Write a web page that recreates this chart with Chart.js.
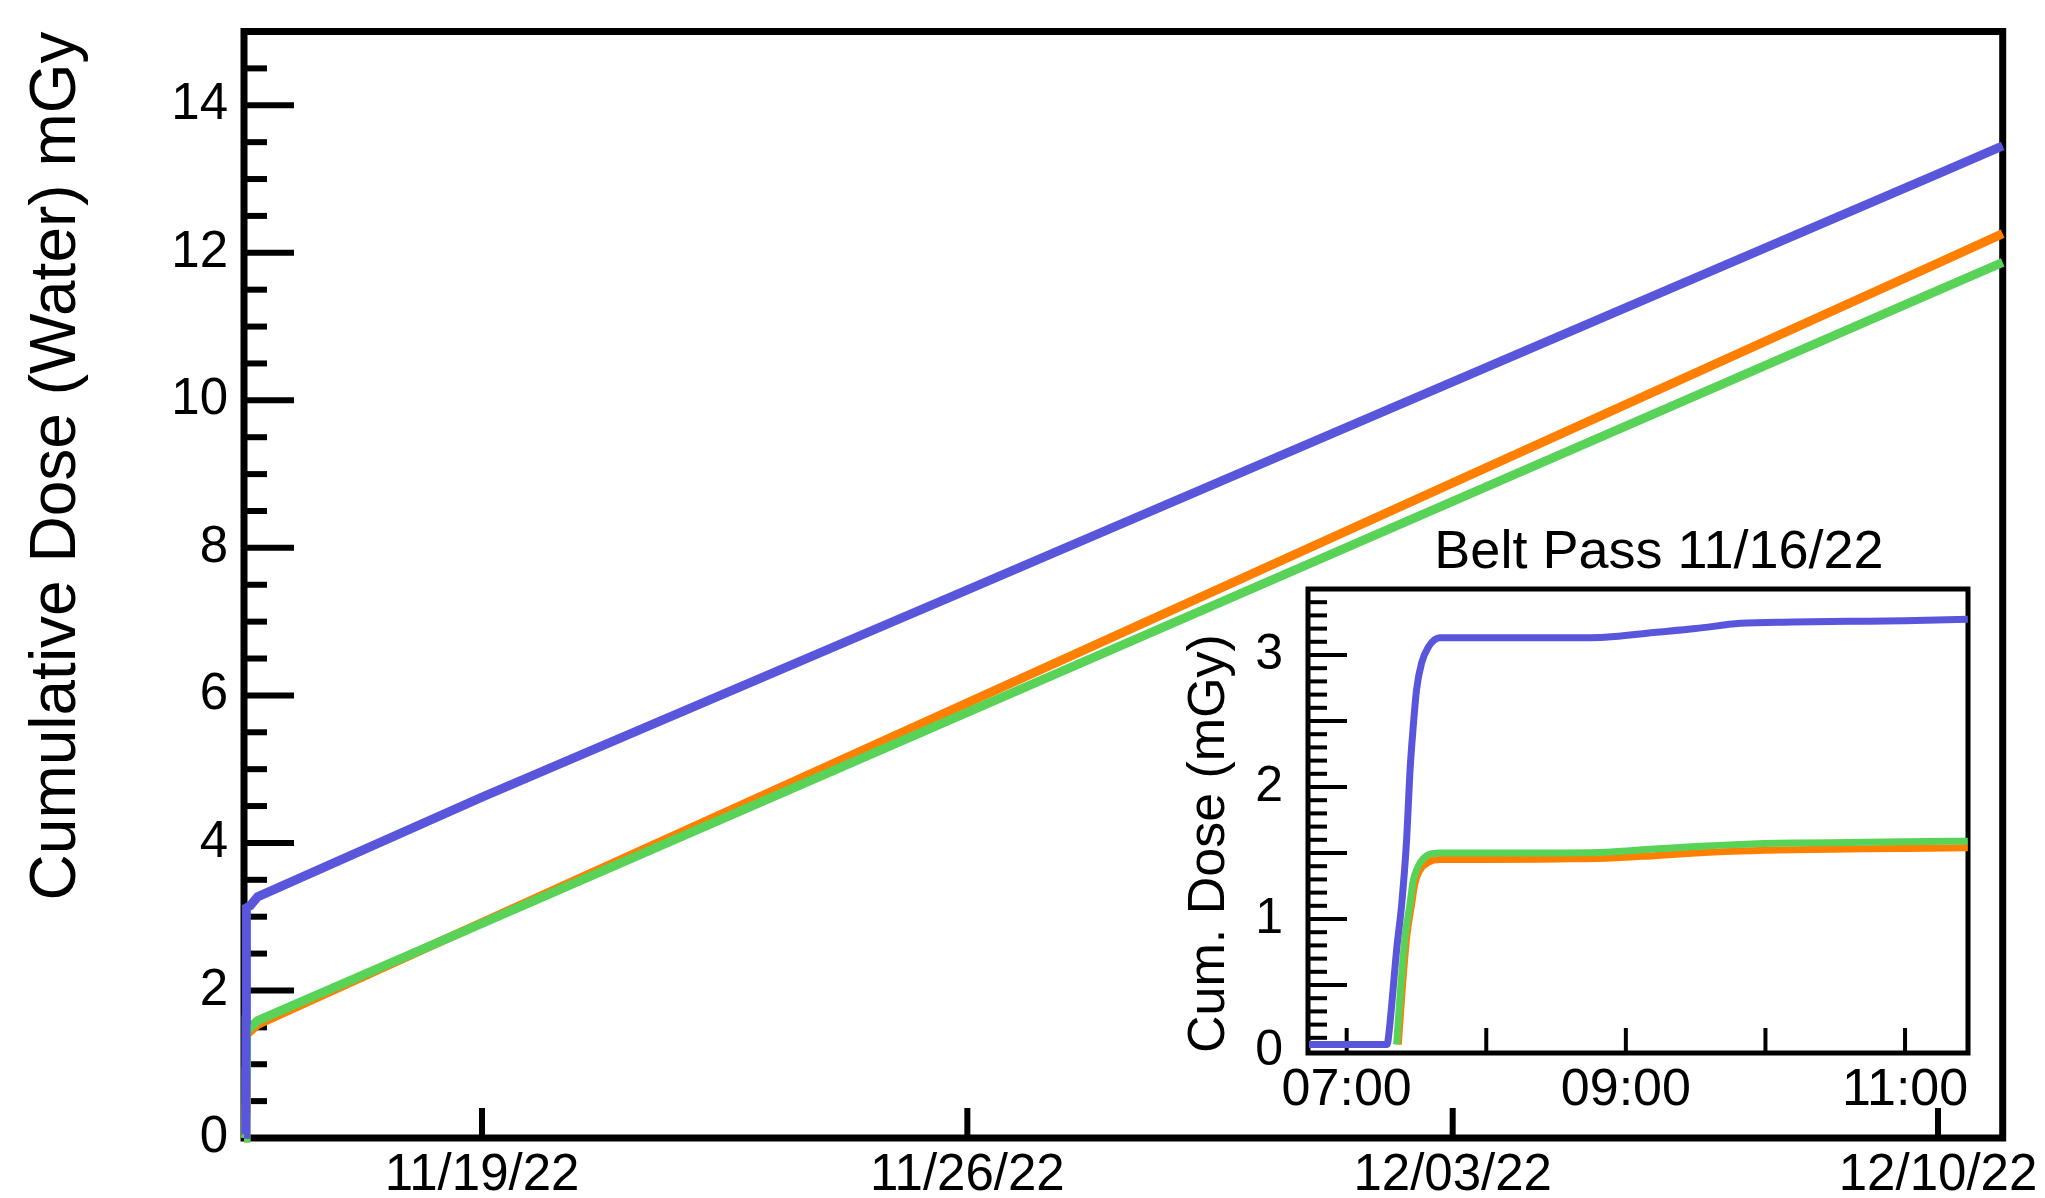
<!DOCTYPE html>
<html><head><meta charset="utf-8">
<script src="https://cdn.jsdelivr.net/npm/chart.js@4.4.1/dist/chart.umd.min.js"></script>
<style>
html,body{margin:0;padding:0;background:#fff;overflow:hidden;}
#wrap{position:relative;width:2045px;height:1198px;}
#main{position:absolute;left:0;top:0;width:2045px;height:1198px;}
#inset{position:absolute;left:1150px;top:500px;width:870px;height:640px;}
</style></head><body>
<div id="wrap"><canvas id="main" width="2045" height="1198"></canvas><canvas id="inset" width="870" height="640"></canvas></div>
<script>
// ---------- main chart: x = days since start of measurement (11/16/22 06:43) ----------
const mainTickDays   = [3.433, 10.433, 17.433, 24.433];
const mainTickLabels = ['11/19/22', '11/26/22', '12/03/22', '12/10/22'];
const mainYTicks     = [0, 2, 4, 6, 8, 10, 12, 14];

const blueDays   = [0, 0.024, 0.027, 0.029, 0.031, 0.034, 0.038, 0.09, 0.197, 3.433, 10.433, 17.433, 24.433, 25.366];
const blueDose   = [0.05, 0.05, 0.8, 1.6, 2.4, 2.9, 3.12, 3.15, 3.27, 4.62, 7.43, 10.25, 13.07, 13.45];
const orangeDays = [0, 0.026, 0.029, 0.032, 0.035, 0.04, 0.09, 0.197, 3.433, 10.433, 17.433, 24.433, 25.366];
const orangeDose = [0, 0, 0.4, 0.9, 1.2, 1.4, 1.45, 1.54, 2.92, 5.90, 8.88, 11.86, 12.26];
const greenDays  = [0, 0.026, 0.028, 0.031, 0.034, 0.04, 0.09, 0.197, 3.433, 10.433, 17.433, 24.433, 25.366];
const greenDose  = [0, 0, 0.4, 0.9, 1.25, 1.45, 1.50, 1.59, 2.91, 5.77, 8.63, 11.49, 11.87];

// ---------- inset: belt pass 11/16/22, x = hour of day ----------
const insetTickHours  = [7, 8, 9, 10, 11];
const insetTickLabels = ['07:00', '', '09:00', '', '11:00'];
const insetYTicks     = [0, 1, 2, 3];

const insetBlueHours   = [6.73, 7.0, 7.29, 7.30, 7.36, 7.394, 7.43, 7.453, 7.477, 7.501, 7.537, 7.585, 7.668, 8.0, 8.5, 8.85, 9.2, 9.5, 9.82, 10.2, 10.6, 11.0, 11.45];
const insetBlueDose    = [0.05, 0.05, 0.05, 0.11, 0.79, 1.11, 1.61, 2.11, 2.46, 2.74, 2.94, 3.06, 3.13, 3.13, 3.13, 3.135, 3.17, 3.20, 3.24, 3.25, 3.255, 3.26, 3.27];
const insetGreenHours  = [7.358, 7.382, 7.418, 7.453, 7.477, 7.513, 7.573, 7.668, 8.0, 8.5, 8.85, 9.2, 9.5, 9.82, 10.2, 10.6, 11.0, 11.45];
const insetGreenDose   = [0.05, 0.41, 0.86, 1.11, 1.29, 1.40, 1.48, 1.50, 1.50, 1.50, 1.505, 1.53, 1.55, 1.565, 1.575, 1.58, 1.585, 1.59];
const insetOrangeHours = [7.37, 7.394, 7.43, 7.465, 7.489, 7.525, 7.585, 7.668, 8.0, 8.5, 8.85, 9.2, 9.5, 9.82, 10.2, 10.6, 11.0, 11.45];
const insetOrangeDose  = [0.05, 0.41, 0.86, 1.11, 1.27, 1.37, 1.43, 1.45, 1.45, 1.455, 1.46, 1.48, 1.50, 1.515, 1.525, 1.53, 1.535, 1.54];

const BLUE = '#5956db', ORANGE = '#ff7f00', GREEN = '#58d358';
const FONT = "'Liberation Sans', Arial, Helvetica, sans-serif";

const pts = (xs, ys) => xs.map((x, i) => ({x: x, y: ys[i]}));
const noPad = s => { s.paddingTop = 0; s.paddingBottom = 0; s.paddingLeft = 0; s.paddingRight = 0; };

const framePlugin = {
  id: 'frame',
  beforeDatasetsDraw(chart, args, o) {
    const {ctx, chartArea: a} = chart;
    const x = chart.scales.x, y = chart.scales.y;
    ctx.save();
    ctx.strokeStyle = '#000';
    ctx.lineCap = 'butt';
    ctx.lineWidth = o.tickWidth;
    o.yTicks.forEach(t => {
      const py = y.getPixelForValue(t.v);
      ctx.beginPath(); ctx.moveTo(a.left, py); ctx.lineTo(a.left + t.len, py); ctx.stroke();
    });
    o.xTicks.forEach(t => {
      const px = x.getPixelForValue(t.v);
      ctx.beginPath(); ctx.moveTo(px, a.bottom); ctx.lineTo(px, a.bottom - t.len); ctx.stroke();
    });
    ctx.lineWidth = o.frameWidth;
    ctx.strokeRect(a.left, a.top, a.right - a.left, a.bottom - a.top);
    ctx.restore();
  }
};

// tick mark lists (axis decoration)
const mainYTickMarks = [];
for (let k = 1; k <= 29; k++) { const v = k * 0.5; mainYTickMarks.push({v: v, len: (k % 4 === 0) ? 50 : 23}); }
const mainXTickMarks = mainTickDays.map(v => ({v: v, len: 30}));
const insetYTickMarks = [];
for (let k = 1; k <= 34; k++) { insetYTickMarks.push({v: k / 10, len: (k % 5 === 0) ? 39 : 19}); }
const insetXTickMarks = insetTickHours.map(v => ({v: v, len: 25}));

new Chart(document.getElementById('main'), {
  type: 'line',
  data: { datasets: [
    {data: pts(blueDays, blueDose), borderColor: BLUE, borderWidth: 9, pointRadius: 0, tension: 0, clip: false},
    {data: pts(greenDays, greenDose), borderColor: GREEN, borderWidth: 9, pointRadius: 0, tension: 0, clip: false},
    {data: pts(orangeDays, orangeDose), borderColor: ORANGE, borderWidth: 9, pointRadius: 0, tension: 0, clip: false}
  ]},
  options: {
    responsive: false, animation: false, devicePixelRatio: 1,
    layout: {padding: {left: 0, top: 31.5, right: 42.3, bottom: 0}},
    plugins: {legend: {display: false}, tooltip: {enabled: false},
      frame: {tickWidth: 6, frameWidth: 7, yTicks: mainYTickMarks, xTicks: mainXTickMarks}},
    scales: {
      x: {type: 'linear', min: 0, max: 25.366,
        grid: {display: false, drawTicks: false}, border: {display: false},
        afterBuildTicks: s => { s.ticks = mainTickDays.map(v => ({value: v})); },
        afterFit: s => { s.height = 60; noPad(s); },
        ticks: {autoSkip: false, maxRotation: 0, minRotation: 0, padding: 7, color: '#000',
          font: {family: FONT, size: 51},
          callback: (v, i) => mainTickLabels[i]}
      },
      y: {type: 'linear', min: 0, max: 15,
        grid: {display: false, drawTicks: false}, border: {display: false},
        afterBuildTicks: s => { s.ticks = mainYTicks.map(v => ({value: v})); },
        afterFit: s => { s.width = 244; noPad(s); },
        ticks: {autoSkip: false, padding: 16, color: '#000', font: {family: FONT, size: 51},
          callback: v => String(v)},
        title: {display: true, text: 'Cumulative Dose (Water) mGy', align: 'end', color: '#000',
          font: {family: FONT, size: 64}, padding: {top: 19.4, bottom: 0}}
      }
    }
  },
  plugins: [framePlugin]
});

const insetTitlePlugin = {
  id: 'insetTitle',
  afterDraw(chart, args, o) {
    const ctx = chart.ctx;
    ctx.save();
    ctx.fillStyle = '#000';
    ctx.font = '54px ' + FONT;
    ctx.textAlign = 'center';
    ctx.textBaseline = 'alphabetic';
    ctx.fillText(o.text, o.x, o.y);
    ctx.restore();
  }
};

new Chart(document.getElementById('inset'), {
  type: 'line',
  data: { datasets: [
    {data: pts(insetBlueHours, insetBlueDose), borderColor: BLUE, borderWidth: 7, pointRadius: 0, cubicInterpolationMode: 'monotone', clip: false},
    {data: pts(insetGreenHours, insetGreenDose), borderColor: GREEN, borderWidth: 7, pointRadius: 0, cubicInterpolationMode: 'monotone', clip: false},
    {data: pts(insetOrangeHours, insetOrangeDose), borderColor: ORANGE, borderWidth: 7, pointRadius: 0, cubicInterpolationMode: 'monotone', clip: false}
  ]},
  options: {
    responsive: false, animation: false, devicePixelRatio: 1,
    layout: {padding: {left: 0, top: 89, right: 52, bottom: 0}},
    plugins: {legend: {display: false}, tooltip: {enabled: false},
      frame: {tickWidth: 4, frameWidth: 5, yTicks: insetYTickMarks, xTicks: insetXTickMarks},
      insetTitle: {text: 'Belt Pass 11/16/22', x: 509, y: 68}},
    scales: {
      x: {type: 'linear', min: 6.723, max: 11.451,
        grid: {display: false, drawTicks: false}, border: {display: false},
        afterBuildTicks: s => { s.ticks = insetTickHours.map(v => ({value: v})); },
        afterFit: s => { s.height = 87; noPad(s); },
        ticks: {autoSkip: false, maxRotation: 0, minRotation: 0, padding: 6, color: '#000',
          font: {family: FONT, size: 52},
          callback: (v, i) => insetTickLabels[i]}
      },
      y: {type: 'linear', min: -0.015, max: 3.5,
        grid: {display: false, drawTicks: false}, border: {display: false},
        afterBuildTicks: s => { s.ticks = insetYTicks.map(v => ({value: v})); },
        afterFit: s => { s.width = 158; noPad(s); },
        ticks: {autoSkip: false, padding: 25, color: '#000', font: {family: FONT, size: 50},
          callback: v => String(v)},
        title: {display: true, text: 'Cum. Dose (mGy)', align: 'start', color: '#000',
          font: {family: FONT, size: 52}, padding: {top: 28.8, bottom: 0}}
      }
    }
  },
  plugins: [framePlugin, insetTitlePlugin]
});
</script>
</body></html>
